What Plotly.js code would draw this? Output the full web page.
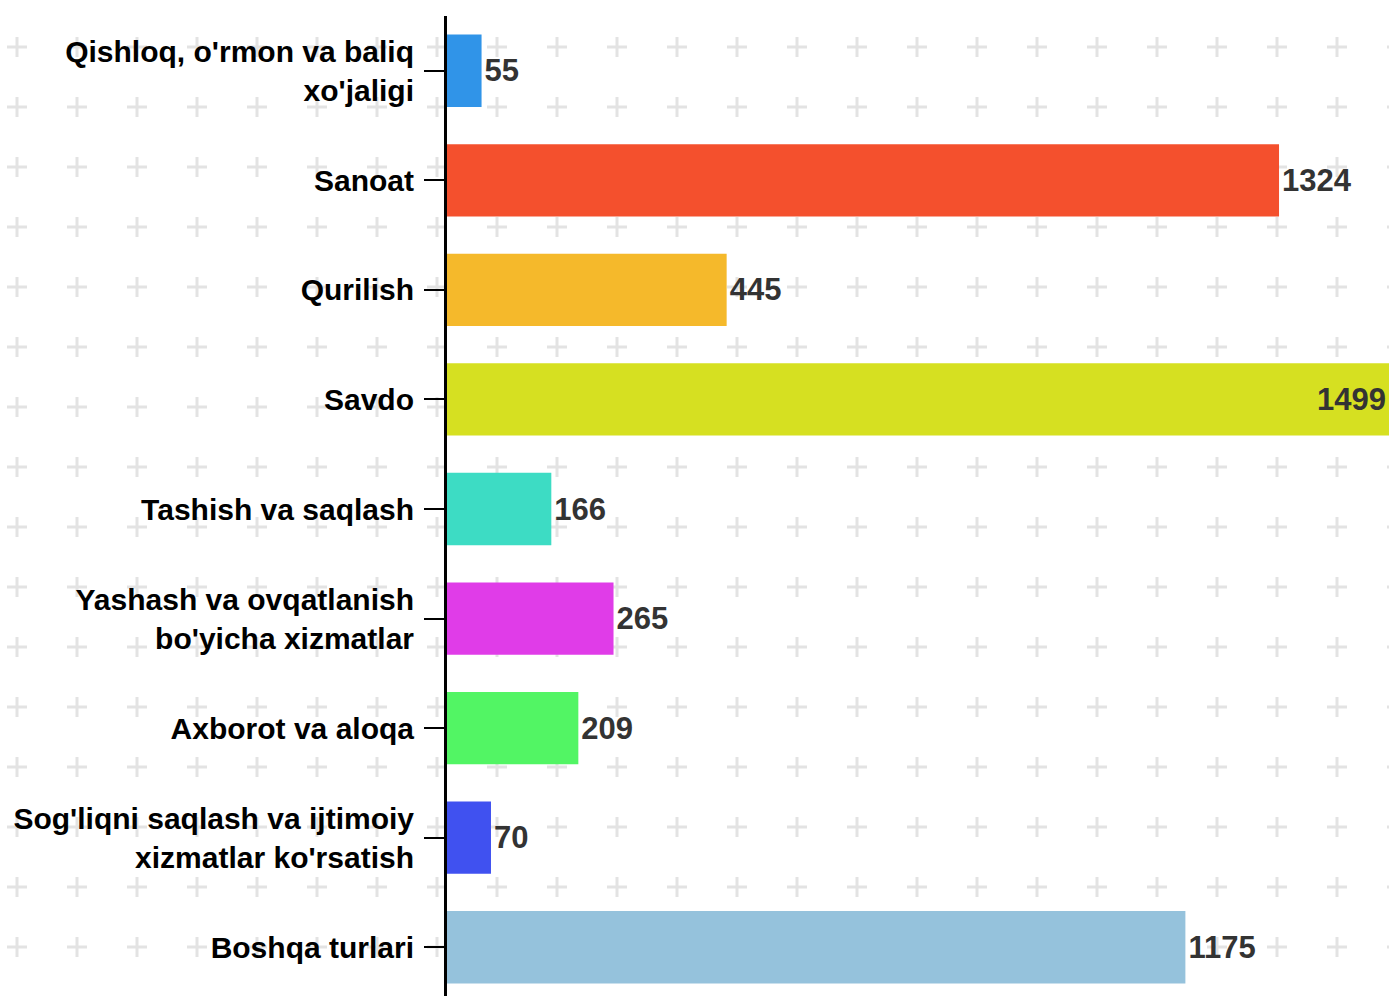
<!DOCTYPE html>
<html>
<head>
<meta charset="utf-8">
<script src="https://cdn.plot.ly/plotly-3.0.1.min.js"></script>
<style>
  html, body { margin: 0; padding: 0; overflow: hidden; background-color: #fff; }
  body {
    background-image: url("data:image/svg+xml,%3Csvg xmlns='http://www.w3.org/2000/svg' width='60' height='60'%3E%3Cpath d='M30 20v20M20 30h20' stroke='%23e3e3e3' stroke-width='3'/%3E%3C/svg%3E");
    background-size: 60px 60px;
    background-position: -13px 17px;
  }
  #chart { width: 1389px; height: 1002px; }
</style>
</head>
<body>
<div id="chart"></div>
<script>
var categories = [
  "Qishloq, o'rmon va baliq<br>xo'jaligi",
  "Sanoat",
  "Qurilish",
  "Savdo",
  "Tashish va saqlash",
  "Yashash va ovqatlanish<br>bo'yicha xizmatlar",
  "Axborot va aloqa",
  "Sog'liqni saqlash va ijtimoiy<br>xizmatlar ko'rsatish",
  "Boshqa turlari"
];
var values = [55, 1324, 445, 1499, 166, 265, 209, 70, 1175];
var colors = ["#3094e8", "#f4502d", "#f5b92b", "#d6e021", "#3ddcc4", "#e03ce8", "#52f564", "#4051f0", "#95c2dc"];

var maxVal = Math.max.apply(null, values);
// the longest bar keeps its label inside, the rest sit outside
var positions = values.map(function (v) { return v === maxVal ? "inside" : "outside"; });

var valueFont = { family: "Liberation Sans, Arial, sans-serif", size: 31, color: "#333333", weight: "bold" };

var trace = {
  type: "bar",
  orientation: "h",
  y: categories,
  x: values,
  text: values.map(String),
  textposition: positions,
  insidetextanchor: "end",
  textfont: valueFont,
  insidetextfont: valueFont,
  outsidetextfont: valueFont,
  marker: { color: colors },
  cliponaxis: false,
  hoverinfo: "none"
};

var layout = {
  width: 1389,
  height: 1002,
  margin: { l: 447, r: 0, t: 16, b: 0 },
  paper_bgcolor: "rgba(0,0,0,0)",
  plot_bgcolor: "rgba(0,0,0,0)",
  bargap: 0.34,
  showlegend: false,
  xaxis: {
    range: [0, maxVal],
    visible: false,
    showgrid: false,
    zeroline: false
  },
  yaxis: {
    autorange: "reversed",
    showline: true,
    linecolor: "#000",
    linewidth: 3,
    ticks: "outside",
    ticklen: 20,
    tickwidth: 2,
    tickcolor: "#000",
    showgrid: false,
    zeroline: false,
    ticklabelstandoff: 4,
    tickfont: { family: "Liberation Sans, Arial, sans-serif", size: 30, color: "#000", weight: "bold" }
  }
};

Plotly.newPlot("chart", [trace], layout, { staticPlot: true });
</script>
</body>
</html>
